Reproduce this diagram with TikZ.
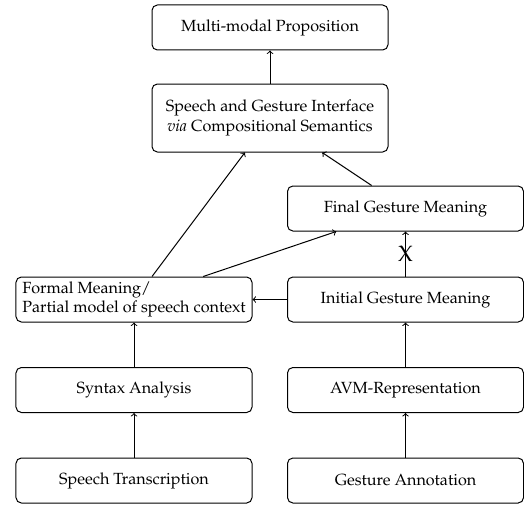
\documentclass[tikz,border=0pt]{standalone}
\usepackage[T1]{fontenc}
\usepackage{mathpazo}
\usetikzlibrary{calc}
\begin{document}
\begin{tikzpicture}[x=0.65pt,y=-0.65pt,
  box/.style={draw,rounded corners=3.5pt,line width=0.65pt,minimum width=153.4pt,minimum height=29.25pt,inner sep=2pt,align=center,font=\fontsize{10.5}{12.5}\selectfont},
  arr/.style={->,>=to,line width=0.65pt}]
\useasboundingbox (0,0) rectangle (524,505);
\node[box] (mmp) at (270,27.5) {Multi-modal Proposition};
\node[box,minimum height=44.2pt] (sgi) at (270,118) {Speech and Gesture Interface\\\textit{via} Compositional Semantics};
\node[box] (fin) at (405.5,208.5) {Final Gesture Meaning};
\node[box,align=left] (for) at (134,299.5) {Formal Meaning/\\Partial model of speech context};
\node[box] (ini) at (405.5,299.5) {Initial Gesture Meaning};
\node[box] (syn) at (134,390) {Syntax Analysis};
\node[box] (avm) at (405.5,390) {AVM-Representation};
\node[box] (spt) at (134,480.5) {Speech Transcription};
\node[box] (gan) at (405.5,480.5) {Gesture Annotation};
\draw[arr] (sgi) -- (mmp);
\draw[arr] ($(for.north west)!0.576!(for.north east)$) -- ($(sgi.south west)!0.394!(sgi.south east)$);
\draw[arr] ($(fin.north west)!0.357!(fin.north east)$) -- ($(sgi.south west)!0.72!(sgi.south east)$);
\draw[arr] ($(for.north west)!0.792!(for.north east)$) -- ($(fin.south west)!0.208!(fin.south east)$);
\draw[arr] (ini) -- node[font=\Large,inner sep=0pt] (x) {X} (fin);
\draw[arr] (ini) -- (for);
\draw[arr] (syn) -- (for);
\draw[arr] (avm) -- (ini);
\draw[arr] (spt) -- (syn);
\draw[arr] (gan) -- (avm);
\end{tikzpicture}
\end{document}
